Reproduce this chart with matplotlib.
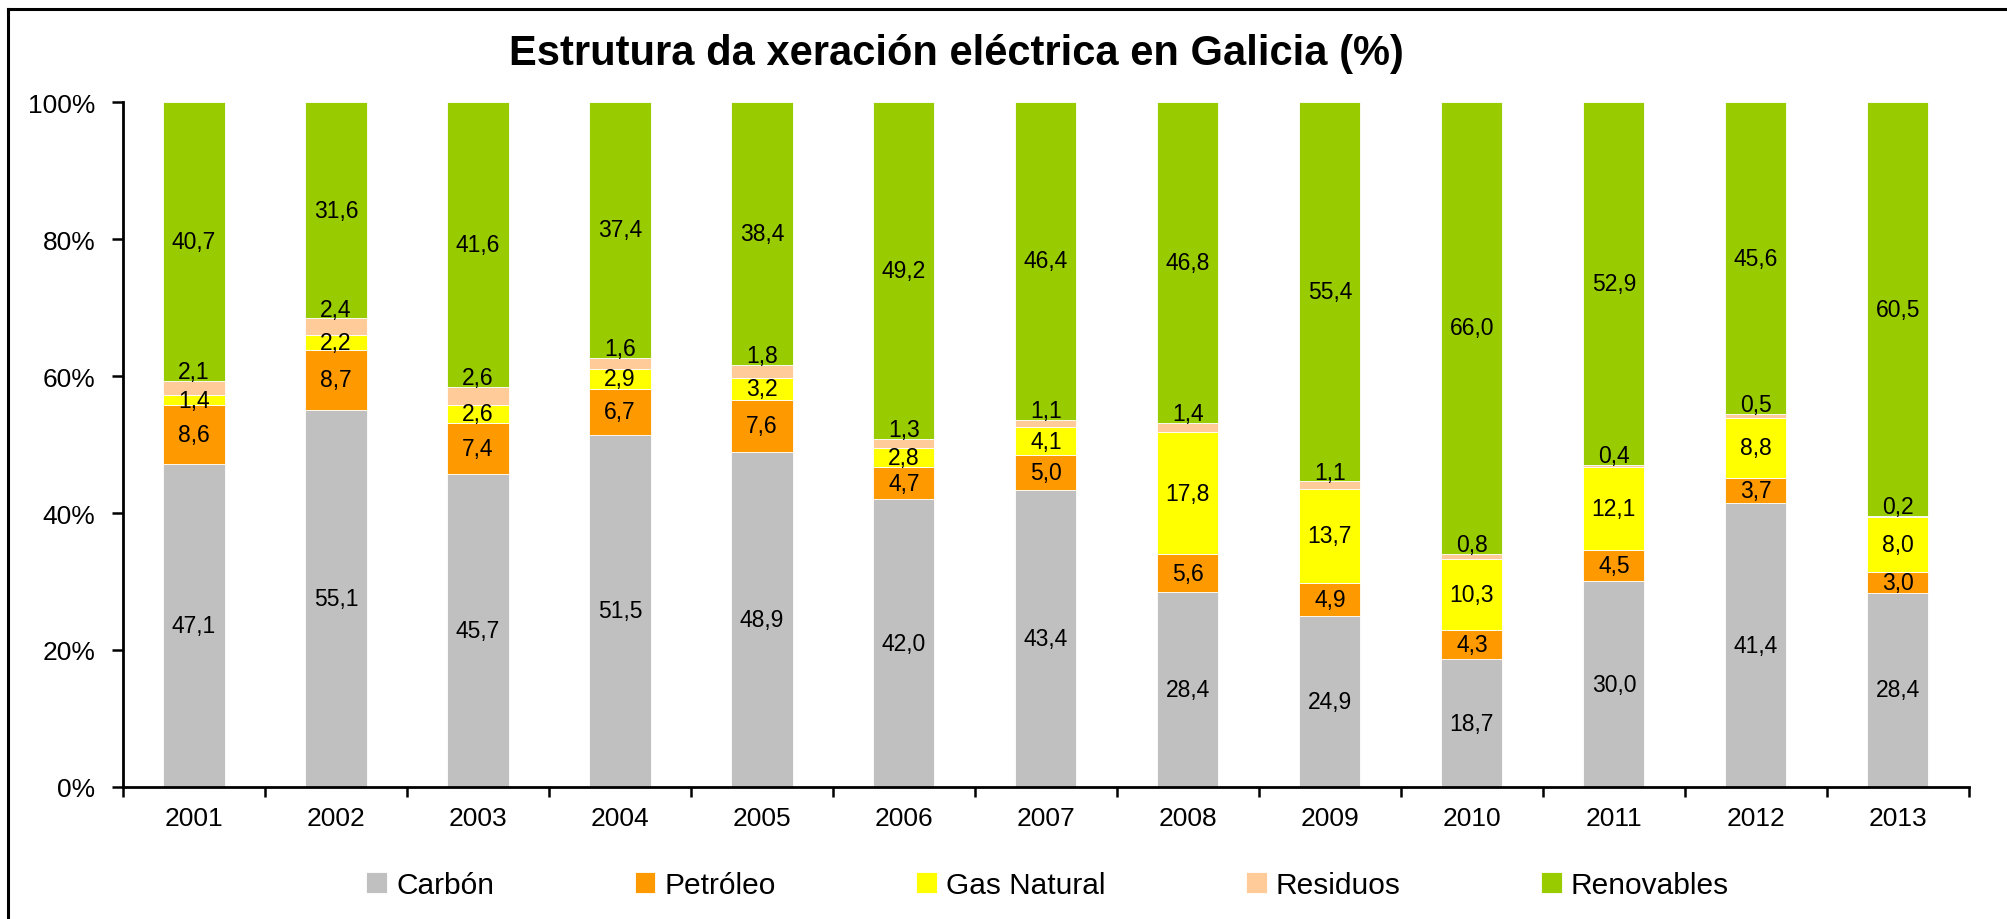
import numpy as np
from matplotlib import pyplot as plt
from matplotlib.lines import Line2D
from matplotlib.ticker import FuncFormatter

plt.rcParams['font.family'] = ['Liberation Sans', 'DejaVu Sans']

years = ['2001', '2002', '2003', '2004', '2005', '2006', '2007',
         '2008', '2009', '2010', '2011', '2012', '2013']

carbon = [47.1, 55.1, 45.7, 51.5, 48.9, 42.0, 43.4, 28.4, 24.9, 18.7, 30.0, 41.4, 28.4]
petroleo = [8.6, 8.7, 7.4, 6.7, 7.6, 4.7, 5.0, 5.6, 4.9, 4.3, 4.5, 3.7, 3.0]
gas = [1.4, 2.2, 2.6, 2.9, 3.2, 2.8, 4.1, 17.8, 13.7, 10.3, 12.1, 8.8, 8.0]
residuos = [2.1, 2.4, 2.6, 1.6, 1.8, 1.3, 1.1, 1.4, 1.1, 0.8, 0.4, 0.5, 0.2]
renovables = [40.7, 31.6, 41.6, 37.4, 38.4, 49.2, 46.4, 46.8, 55.4, 66.0, 52.9, 45.6, 60.5]

names = ['Carbón', 'Petróleo', 'Gas Natural', 'Residuos', 'Renovables']
colors = ['#C0C0C0', '#FF9900', '#FFFF00', '#FFCC99', '#99CC00']

series = np.array([carbon, petroleo, gas, residuos, renovables])
# 100% stacked, like the spreadsheet does it
shares = series / series.sum(axis=0) * 100

fig = plt.figure(figsize=(20.07, 9.2), dpi=100)
ax = fig.add_axes([0.0613, 0.1435, 0.9197, 0.7445])

x = np.arange(len(years))
bottom = np.zeros(len(years))
for i in range(len(names)):
    ax.bar(x, shares[i], bottom=bottom, width=0.43, color=colors[i],
           edgecolor='white', linewidth=0.6, label=names[i], zorder=2)
    for j in range(len(years)):
        txt = ('%.1f' % series[i][j]).replace('.', ',')
        if i == 3:
            ax.text(x[j], bottom[j] + shares[i][j] - 0.3, txt, ha='center', va='bottom',
                    fontsize=16.5, zorder=3)
        else:
            ax.text(x[j], bottom[j] + shares[i][j] / 2, txt, ha='center', va='center',
                    fontsize=16.5, zorder=3)
    bottom += shares[i]

ax.set_xlim(-0.5, len(years) - 0.5)
ax.set_ylim(0, 100)
ax.set_yticks(np.arange(0, 101, 20))
ax.yaxis.set_major_formatter(FuncFormatter(lambda v, p: '%d%%' % v))
ax.set_xticks(x)
ax.set_xticklabels(years)
ax.set_xticks(np.arange(-0.5, len(years), 1), minor=True)
ax.tick_params(axis='x', which='major', length=0, labelsize=19, pad=14)
ax.tick_params(axis='x', which='minor', length=7, width=1.8, direction='out')
ax.tick_params(axis='y', length=8, width=1.8, labelsize=19, pad=12)

for s in ['top', 'right']:
    ax.spines[s].set_visible(False)
for s in ['left', 'bottom']:
    ax.spines[s].set_linewidth(2.0)

fig.text(0.4765, 0.941, 'Estrutura da xeración eléctrica en Galicia (%)',
         ha='center', va='center', fontsize=30, fontweight='bold')

fig.legend(loc='center', bbox_to_anchor=(0.522, 0.037), ncol=5, frameon=False,
           fontsize=21.5, handlelength=0.7, handleheight=0.7, handletextpad=0.3,
           columnspacing=4.7)

# outer chart border (left and top visible)
fig.add_artist(Line2D([0.004, 0.004], [0, 0.989], transform=fig.transFigure,
                      color='black', linewidth=2.2))
fig.add_artist(Line2D([0.004, 1], [0.989, 0.989], transform=fig.transFigure,
                      color='black', linewidth=2.2))

fig.savefig('out.png', dpi=100)
